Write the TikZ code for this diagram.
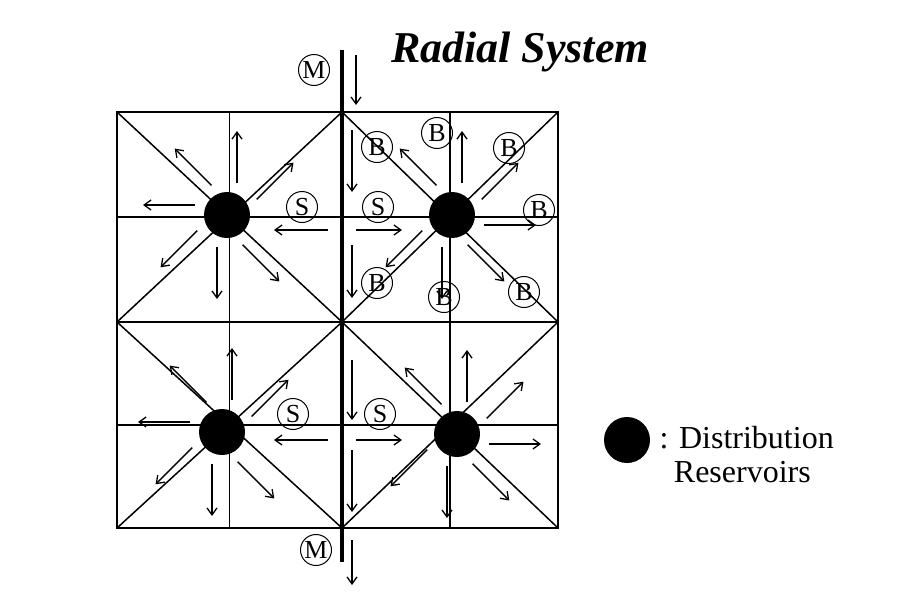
\documentclass[tikz,border=0pt]{standalone}
\usepackage{fontspec}
\setmainfont{Liberation Serif}
\usetikzlibrary{calc,arrows.meta}
\tikzset{
  flow/.style={-{Straight Barb[length=7pt,width=10pt]},line width=1.3pt},
  grid line/.style={line width=1.5pt},
  res/.style={circle,fill=black,minimum size=46pt,inner sep=0pt},
  tag/.style={circle,draw,line width=1pt,inner sep=0pt,minimum size=31pt,font=\fontsize{26}{26}\selectfont},
}
\begin{document}
\begin{tikzpicture}[x=1pt,y=-1pt]
  \useasboundingbox (0,0) rectangle (918,595);
  % grid of the district
  \draw[grid line] (117,112) rectangle (558,528);
  \draw[grid line] (117,322) -- (558,322);
  \foreach \xa/\xb in {117/342,342/558}
    \foreach \ya/\yb in {112/322,322/528}{
      \draw[grid line] (\xa,\ya) -- (\xb,\yb);
      \draw[grid line] (\xa,\yb) -- (\xb,\ya);
      \draw[grid line] ({(\xa+\xb)/2},\ya) -- ({(\xa+\xb)/2},\yb);
      \draw[grid line] (\xa,{(\ya+\yb)/2}) -- (\xb,{(\ya+\yb)/2});
    }
  % main
  \coordinate (mtop) at (342,50);
  \coordinate (mbot) at (342,562);
  \draw[line width=4pt] (mtop) -- (mbot);
  \draw[flow] (356,55) -- (356,105);
  \draw[flow] (352,540) -- (352,585);
  \node[tag] (m1) at (314,70) {M};
  \node[tag] (m2) at (316,550) {M};
  \foreach \ya/\yb in {130/192,245/298,360/420,450/512}
    \draw[flow] (352,\ya) -- (352,\yb);
  \foreach \y in {230,440}{
    \draw[flow] (328,\y) -- (274,\y);
    \draw[flow] (356,\y) -- (402,\y);
  }
  % reservoirs
  \node[res] (r1) at (227,215) {};
  \node[res] (r2) at (452,215) {};
  \node[res] (r3) at (222,432) {};
  \node[res] (r4) at (457,434) {};
  \foreach \r/\angles in {r1/{45,90,...,315},r3/{45,90,...,315},r2/{0,45,90,135,225,270,315},r4/{0,45,90,135,225,270,315}}
    \foreach \a in \angles
      \draw[flow] ($(\r)+(\a:32)+(\a+90:10)$) -- ($(\r)+(\a:84)+(\a+90:10)$);
  % sub-mains and branches
  \foreach \x/\y in {302/207,378/207,293/414,380/414}
    \node[tag] at (\x,\y) {S};
  \foreach \x/\y in {377/147,437/133,509/148,539/210,377/283,444/297,524/292}
    \node[tag] at (\x,\y) {B};
  % title and legend
  \node[font=\bfseries\itshape\fontsize{44}{44}\selectfont] (title) at (520,52) {Radial System};
  \node[res] (key) at (627,440) {};
  \node[anchor=west,align=left,font=\fontsize{32}{34}\selectfont] (keytext) at (656,455)
    {: Distribution\\\hspace*{0.45em}Reservoirs};
\end{tikzpicture}
\end{document}
